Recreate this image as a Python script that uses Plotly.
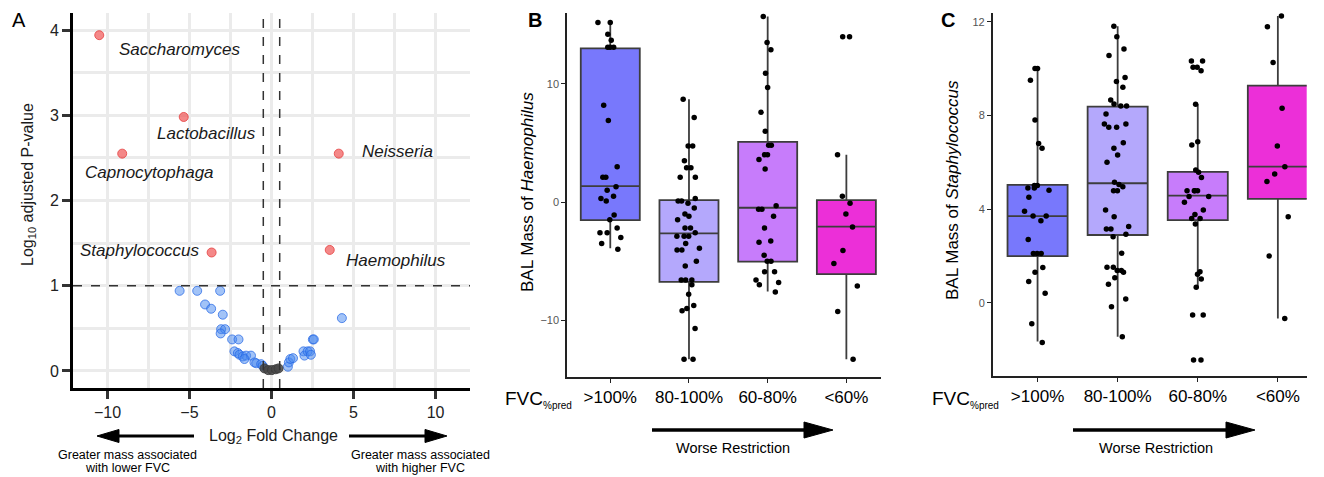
import plotly.graph_objects as go

W, H = 1324, 477

# ---------------- Panel A data (volcano) ----------------
sig_genus = ["Saccharomyces", "Lactobacillus", "Capnocytophaga", "Neisseria", "Staphylococcus", "Haemophilus"]
sig_lfc = [-10.5, -5.35, -9.1, 4.1, -3.65, 3.55]
sig_p = [3.94, 2.98, 2.55, 2.55, 1.39, 1.42]

ns_lfc = [-5.6, -4.53, -3.13, -4.05, -3.68, -2.97, -3.07, -2.83, -3.1, -2.4, -2.01, -2.26, -2.05,
          -1.95, -1.75, -1.55, -1.25, -1.65, -1.04, -0.93, -0.63, -0.53,
          1.0, 1.06, 1.15, 1.31, 1.95, 2.01, 2.2, 2.35, 2.4, 2.52, 2.58, 4.29]
ns_p = [0.94, 0.94, 0.94, 0.78, 0.73, 0.66, 0.49, 0.49, 0.44, 0.37, 0.37, 0.23, 0.21,
        0.19, 0.17, 0.18, 0.18, 0.14, 0.10, 0.09, 0.08, 0.06,
        0.05, 0.10, 0.14, 0.15, 0.23, 0.18, 0.23, 0.23, 0.19, 0.37, 0.37, 0.62]

small_lfc = [-0.43, -0.2, 0.02, 0.26, 0.43]
small_p = [0.03, 0.01, 0.01, 0.02, 0.03]

lfc_cut = 0.5
p_cut = 1.0

# ---------------- Panels B / C data ----------------
groups = [">100%", "80-100%", "60-80%", "<60%"]
group_colors = ["#7878fc", "#b4a8fc", "#c77cfb", "#ec2fd8"]

haem_q1 = [-1.52, -6.75, -5.04, -6.1]
haem_med = [1.35, -2.65, -0.48, -2.08]
haem_q3 = [13.0, 0.17, 5.09, 0.17]
haem_lo = [-3.9, -13.3, -7.57, -13.3]
haem_hi = [15.2, 8.7, 15.7, 4.0]

haem_pts = [
    [15.2, 15.2, 14.2, 13.7, 13.1, 13.1, 13.1, 8.2, 6.9, 3.0, 2.1, 2.1, 1.3, 1.0, 0.5, 0.3, 0.1,
     -1.1, -1.5, -2.2, -2.6, -2.6, -3.0, -3.5, -4.0],
    [8.7, 7.15, 4.75, 4.75, 3.5, 2.9, 2.9, 2.1, 2.1, 0.3, 0.1, 0.1, -0.1, -0.5, -1.0, -1.2, -1.5,
     -2.2, -2.2, -2.6, -2.9, -2.9, -2.9, -3.5, -3.9, -4.05, -4.05, -5.0, -5.4, -6.6, -6.6, -6.6,
     -7.0, -7.8, -8.75, -9.0, -9.2, -10.7, -13.3, -13.3],
    [15.7, 13.5, 12.9, 10.9, 9.7, 7.6, 6.0, 4.8, 4.8, 4.0, 4.0, 3.6, 2.8, -0.3, -0.6, -0.6, -1.2,
     -2.2, -3.3, -3.4, -4.5, -5.0, -5.0, -5.9, -5.9, -6.6, -6.8, -7.0, -7.6],
    [14.0, 14.0, 4.0, 0.5, -0.1, -1.0, -2.1, -4.1, -5.2, -7.1, -9.25, -13.3],
]

staph_q1 = [1.99, 2.89, 3.53, 4.43]
staph_med = [3.7, 5.1, 4.57, 5.81]
staph_q3 = [5.03, 8.37, 5.59, 9.27]
staph_lo = [-1.66, -1.45, 0.66, -0.67]
staph_hi = [10.0, 11.8, 8.47, 12.24]

staph_pts = [
    [10.0, 10.0, 9.5, 7.8, 6.8, 6.6, 5.0, 5.0, 4.9, 4.9, 4.8, 4.5, 3.9, 3.7, 3.7, 3.5, 2.7,
     2.1, 2.1, 2.1, 1.5, 1.3, 0.9, 0.4, -0.9, -1.7],
    [11.8, 11.36, 10.83, 10.55, 9.62, 9.44, 9.2, 8.65, 8.48, 8.4, 8.4, 8.06, 7.63, 7.63, 7.49,
     7.49, 6.83, 6.59, 6.31, 6.0, 5.14, 5.05, 4.95, 4.78, 4.78, 3.96, 3.67, 3.25, 3.15, 3.15,
     2.92, 2.82, 2.11, 1.51, 1.51, 1.37, 1.37, 1.3, 1.07, 0.79, 0.16, -0.17, -1.45],
    [10.32, 10.32, 10.05, 10.05, 9.9, 8.47, 6.87, 6.73, 5.67, 5.57, 5.35, 4.78, 4.78, 4.78, 4.78,
     4.53, 4.53, 4.29, 3.96, 3.77, 3.6, 3.6, 3.36, 1.32, 1.21, 1.01, 0.66, -0.53, -0.53, -2.45, -2.45],
    [12.24, 11.78, 10.26, 8.3, 6.69, 5.81, 5.5, 5.17, 3.67, 1.99, -0.67],
]

FONT = "Liberation Sans, Arial, sans-serif"


def px(x):
    return x / W


def py(y):
    return 1 - y / H


fig = go.Figure()

# ---- Panel A traces ----
fig.add_trace(go.Scatter(
    x=ns_lfc, y=ns_p, mode="markers", xaxis="x", yaxis="y", showlegend=False,
    marker=dict(size=9, color="rgba(70,135,240,0.5)", line=dict(color="rgba(40,105,230,0.75)", width=1)),
))
fig.add_trace(go.Scatter(
    x=small_lfc, y=small_p, mode="markers", xaxis="x", yaxis="y", showlegend=False,
    marker=dict(size=9, color="rgba(70,70,70,0.85)", line=dict(color="rgba(60,60,60,0.9)", width=1)),
))
fig.add_trace(go.Scatter(
    x=sig_lfc, y=sig_p, mode="markers", xaxis="x", yaxis="y", showlegend=False,
    marker=dict(size=9, color="rgba(240,85,85,0.7)", line=dict(color="rgba(230,70,70,0.85)", width=1)),
))

# label offsets (pixels) relative to each point
label_style = {
    "Saccharomyces": ("left", 18, -14),
    "Lactobacillus": ("right", 74, -17),
    "Capnocytophaga": ("center", 27, -19),
    "Neisseria": ("left", 21, 2),
    "Staphylococcus": ("right", -10, 2),
    "Haemophilus": ("left", 14, -11),
}
annotations = []
for g, xv, yv in zip(sig_genus, sig_lfc, sig_p):
    anc, xs, ys = label_style[g]
    annotations.append(dict(
        x=xv, y=yv, xref="x", yref="y", text="<i>%s</i>" % g, showarrow=False,
        xanchor=anc, yanchor="middle", xshift=xs, yshift=ys,
        font=dict(family=FONT, size=17, color="#1a1a1a"),
    ))

# ---- Panels B and C traces ----
for ax_id, q1s, meds, q3s, los, his, pts in [
    ("2", haem_q1, haem_med, haem_q3, haem_lo, haem_hi, haem_pts),
    ("3", staph_q1, staph_med, staph_q3, staph_lo, staph_hi, staph_pts),
]:
    for i, g in enumerate(groups):
        fig.add_trace(go.Box(
            x=[g], q1=[q1s[i]], median=[meds[i]], q3=[q3s[i]],
            lowerfence=[los[i]], upperfence=[his[i]],
            fillcolor=group_colors[i], line=dict(color="#3d3d3d", width=1.8),
            width=0.75, whiskerwidth=0, boxpoints=False, showlegend=False,
            xaxis="x" + ax_id, yaxis="y" + ax_id,
        ))
        fig.add_trace(go.Box(
            x=[g] * len(pts[i]), y=pts[i], boxpoints="all", jitter=0.5, pointpos=0,
            fillcolor="rgba(0,0,0,0)", line=dict(color="rgba(0,0,0,0)", width=0),
            marker=dict(color="black", size=5.5), width=0.75, whiskerwidth=0,
            showlegend=False, hoveron="points",
            xaxis="x" + ax_id, yaxis="y" + ax_id,
        ))

grid_c = "#ebebeb"
common_a = dict(showline=True, linecolor="black", linewidth=3, ticks="outside", ticklen=8,
                tickwidth=3, tickcolor="#333333", zeroline=False, showgrid=True,
                gridcolor=grid_c, gridwidth=2.5,
                tickfont=dict(family=FONT, size=16, color="#222222"))

box_x = dict(type="category", categoryorder="array", categoryarray=groups, showline=True,
             linecolor="#222222", linewidth=1.5, ticks="outside", ticklen=4, tickcolor="#222222",
             showgrid=False, zeroline=False, tickfont=dict(family=FONT, size=17, color="black"))
box_y = dict(showline=True, linecolor="#222222", linewidth=1.5, ticks="outside", ticklen=4,
             tickcolor="#222222", showgrid=False, zeroline=False,
             tickfont=dict(family=FONT, size=11, color="#555555"))

fig.update_layout(
    width=W, height=H, margin=dict(l=0, r=0, t=0, b=0),
    paper_bgcolor="white", plot_bgcolor="white", boxmode="overlay",
    font=dict(family=FONT),
    xaxis=dict(domain=[px(73), px(470)], range=[-12.1, 12.1], dtick=5, tick0=0, anchor="y",
               minor=dict(dtick=2.5, showgrid=True, gridcolor=grid_c, gridwidth=2.5, ticks=""),
               **common_a),
    yaxis=dict(domain=[py(388), py(13)], range=[-0.2, 4.2], dtick=1, tick0=0, anchor="x",
               minor=dict(dtick=0.5, showgrid=True, gridcolor=grid_c, gridwidth=2.5, ticks=""),
               **common_a),
    xaxis2=dict(domain=[px(567), px(881)], range=[-0.55, 3.44], anchor="y2", **box_x),
    yaxis2=dict(domain=[py(377), py(13)], range=[-14.8, 16], tickvals=[-10, 0, 10], anchor="x2", **box_y),
    xaxis3=dict(domain=[px(992.7), px(1306.7)], range=[-0.56, 3.36], anchor="y3", **box_x),
    yaxis3=dict(domain=[py(376), py(13)], range=[-3.13, 12.37], tickvals=[0, 4, 8, 12], anchor="x3", **box_y),
)

# threshold lines
shapes = [
    dict(type="line", xref="x", yref="y domain", x0=-lfc_cut, x1=-lfc_cut, y0=0, y1=1,
         line=dict(color="#333333", width=1.5, dash="dash")),
    dict(type="line", xref="x", yref="y domain", x0=lfc_cut, x1=lfc_cut, y0=0, y1=1,
         line=dict(color="#333333", width=1.5, dash="dash")),
    dict(type="line", xref="x domain", yref="y", x0=0, x1=1, y0=p_cut, y1=p_cut,
         line=dict(color="#333333", width=1.5, dash="dash")),
]


def arrow(tail, tip, base, yc, half, width):
    out = [dict(type="line", xref="paper", yref="paper", x0=px(tail), x1=px(base), y0=py(yc), y1=py(yc),
                line=dict(color="black", width=width))]
    path = "M %f %f L %f %f L %f %f Z" % (px(tip), py(yc), px(base), py(yc - half), px(base), py(yc + half))
    out.append(dict(type="path", xref="paper", yref="paper", path=path, fillcolor="black",
                    line=dict(color="black", width=1)))
    return out


shapes += arrow(194, 97, 119, 436, 6.5, 3)
shapes += arrow(349, 447, 425, 436, 6.5, 3)
shapes += arrow(652, 833, 804, 430, 8, 3.5)
shapes += arrow(1073, 1255, 1226, 430, 8, 3.5)
fig.update_layout(shapes=shapes)


def text(x, y, s, size, anchor="center", angle=0, color="black"):
    annotations.append(dict(x=px(x), y=py(y), xref="paper", yref="paper", text=s, showarrow=False,
                            xanchor=anchor, yanchor="middle", textangle=angle,
                            font=dict(family=FONT, size=size, color=color)))


text(19, 20, "A", 20)
text(535, 20, "<b>B</b>", 20)
text(948, 20, "<b>C</b>", 20)
text(28, 185, "Log<sub>10</sub> adjusted P-value", 16, angle=-90, color="#1a1a1a")
text(273, 436, "Log<sub>2</sub> Fold Change", 16, color="#1a1a1a")
text(127, 455, "Greater mass associated", 12.5)
text(127, 468, "with lower FVC", 12.5)
text(420, 455, "Greater mass associated", 12.5)
text(420, 468, "with higher FVC", 12.5)
text(527, 192, "BAL Mass of <i>Haemophilus</i>", 17, angle=-90)
text(952, 190, "BAL Mass of <i>Staphylococcus</i>", 17, angle=-90)
text(574, 399, "FVC<sub><span style=\"font-size:10px\">%pred</span></sub>", 19, anchor="right")
text(1001, 399, "FVC<sub><span style=\"font-size:10px\">%pred</span></sub>", 19, anchor="right")
text(733, 448, "Worse Restriction", 14.5)
text(1156, 448, "Worse Restriction", 14.5)

fig.update_layout(annotations=annotations)

fig.write_html("out.html", config={"displayModeBar": False},
               post_script="document.body.style.margin='0';document.body.style.overflow='hidden';")
